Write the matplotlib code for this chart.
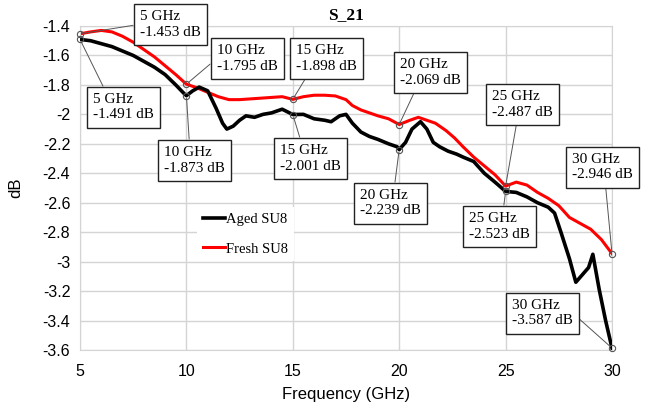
import numpy as np
import matplotlib
matplotlib.use('Agg')
import matplotlib.pyplot as plt

# Aged SU8 (black)
aged_f = [5.0, 5.5, 6.0, 6.5, 7.0, 7.5, 8.0, 8.5, 9.0, 9.5, 9.9, 10.0, 10.3, 10.6,
          11.0, 11.4, 11.7, 11.9, 12.2, 12.5, 12.8, 13.2, 13.6, 14.0, 14.5, 15.0,
          15.5, 16.0, 16.5, 16.8, 17.2, 17.5, 17.8, 18.2, 18.6, 19.0, 19.5, 19.9,
          20.0, 20.3, 20.6, 21.0, 21.3, 21.6, 21.9, 22.3, 22.7, 23.0, 23.5, 24.0,
          24.5, 25.0, 25.5, 26.0, 26.5, 27.0, 27.3, 27.6, 28.0, 28.3, 28.6, 28.9,
          29.1, 29.4, 29.7, 30.0]
aged_db = [-1.491, -1.50, -1.52, -1.54, -1.57, -1.60, -1.64, -1.68, -1.73, -1.80, -1.86, -1.873, -1.84, -1.815,
           -1.84, -1.96, -2.06, -2.10, -2.08, -2.04, -2.01, -2.02, -2.00, -1.99, -1.965, -2.001,
           -2.00, -2.03, -2.04, -2.05, -2.01, -2.00, -2.06, -2.12, -2.15, -2.17, -2.20, -2.22,
           -2.239, -2.19, -2.10, -2.05, -2.10, -2.19, -2.22, -2.25, -2.27, -2.29, -2.32, -2.40,
           -2.46, -2.523, -2.53, -2.56, -2.60, -2.63, -2.67, -2.80, -2.98, -3.14, -3.09, -3.04,
           -2.95, -3.19, -3.40, -3.587]

# Fresh SU8 (red)
fresh_f = [5.0, 5.5, 6.0, 6.5, 7.0, 7.5, 8.0, 8.5, 9.0, 9.5, 10.0, 10.5, 11.0, 11.5,
           12.0, 12.5, 13.0, 13.5, 14.0, 14.5, 15.0, 15.5, 16.0, 16.5, 17.0, 17.5,
           17.8, 18.2, 18.6, 19.0, 19.5, 20.0, 20.5, 20.9, 21.3, 21.7, 22.2, 22.6,
           23.0, 23.5, 24.0, 24.5, 25.0, 25.5, 26.0, 26.5, 27.0, 27.5, 28.0, 28.5,
           29.0, 29.5, 30.0]
fresh_db = [-1.453, -1.44, -1.43, -1.44, -1.47, -1.51, -1.56, -1.61, -1.67, -1.73, -1.795, -1.82, -1.85, -1.88,
            -1.90, -1.90, -1.895, -1.89, -1.885, -1.88, -1.898, -1.88, -1.87, -1.87, -1.875, -1.90,
            -1.94, -1.97, -1.99, -2.01, -2.03, -2.069, -2.04, -2.02, -2.04, -2.06, -2.11, -2.16,
            -2.22, -2.29, -2.35, -2.41, -2.487, -2.46, -2.48, -2.53, -2.57, -2.62, -2.70, -2.74,
            -2.78, -2.85, -2.946]

# marked points
mark_f = [5, 10, 15, 20, 25, 30]
aged_mark = [-1.491, -1.873, -2.001, -2.239, -2.523, -3.587]
fresh_mark = [-1.453, -1.795, -1.898, -2.069, -2.487, -2.946]

W, H = 654, 408
fig = plt.figure(figsize=(W / 100, H / 100), dpi=100)
ax = fig.add_axes([80 / W, 1 - 350 / H, 532 / W, 324 / H])

sans = 'Liberation Sans'
serif = 'Liberation Serif'

ax.plot(aged_f, aged_db, color='black', lw=2.6, label='Aged SU8', zorder=3)
ax.plot(fresh_f, fresh_db, color='#ff0000', lw=2.2, label='Fresh SU8', zorder=2)

ax.set_xlim(5, 30)
ax.set_ylim(-3.6, -1.4)
ax.set_xticks([5, 10, 15, 20, 25, 30])
ax.set_yticks(np.arange(-3.6, -1.39, 0.2))
ax.set_yticklabels(['-3.6', '-3.4', '-3.2', '-3', '-2.8', '-2.6', '-2.4', '-2.2',
                    '-2', '-1.8', '-1.6', '-1.4'])
ax.tick_params(length=0, labelsize=11.5, pad=7)
for lab in ax.get_xticklabels() + ax.get_yticklabels():
    lab.set_fontfamily(sans)
ax.tick_params(axis='x', pad=10)
ax.grid(True, color='#d4d4d4', lw=1)
ax.set_axisbelow(True)
for s in ax.spines.values():
    s.set_color('#d4d4d4')

ax.set_xlabel('Frequency (GHz)', fontfamily=sans, fontsize=12, labelpad=6)
ax.set_ylabel('dB', fontfamily=sans, fontsize=12, labelpad=14)
ax.set_title('S_21', fontfamily=serif, fontweight='bold', fontsize=12.5, pad=5)


def px(x, y):
    return (x / W, 1 - y / H)


# box top-left corners (pixels) and relpos for the leader line
fresh_box = [(134, 5, (0, 0.5)), (211, 39, (0, 0.5)), (290, 39, (0.5, 1)),
             (394, 53, (0.5, 1)), (486, 85, (0.5, 1)), (566, 148, (0.5, 1))]
aged_box = [(87, 88, (0.45, 0)), (158, 141, (0.45, 0)), (274, 139, (0.5, 0)),
            (354, 184, (0.5, 0)), (463, 207, (0.5, 0)), (506, 294, (1, 0.5))]

bb = dict(boxstyle='square,pad=0.42', fc='white', ec='#222222', lw=1)
for pts, boxes in ((fresh_mark, fresh_box), (aged_mark, aged_box)):
    for f, v, (bx, by, rp) in zip(mark_f, pts, boxes):
        ax.annotate('%d GHz\n%.3f dB' % (f, v), xy=(f, v), xytext=px(bx + 6, by + 5),
                    textcoords='figure fraction', ha='left', va='top',
                    fontfamily=serif, fontsize=11, linespacing=1.25, bbox=bb,
                    arrowprops=dict(arrowstyle='-', color='#555555', lw=0.7,
                                    relpos=rp, shrinkA=0, shrinkB=2),
                    annotation_clip=False, zorder=5)
    ax.plot(mark_f, pts, 'o', ms=4.5, mfc='none', mec='#555555', mew=0.8,
            zorder=4, clip_on=False)

leg = ax.legend(loc='upper left', bbox_to_anchor=px(190, 200), bbox_transform=fig.transFigure,
                frameon=True, fancybox=False, handlelength=1.5, handletextpad=0.1,
                labelspacing=1.1, prop={'family': serif, 'size': 10.5})
leg.get_frame().set_edgecolor('none')
leg.get_frame().set_facecolor('white')
leg.get_frame().set_alpha(1)

fig.savefig('out.png', dpi=100)
